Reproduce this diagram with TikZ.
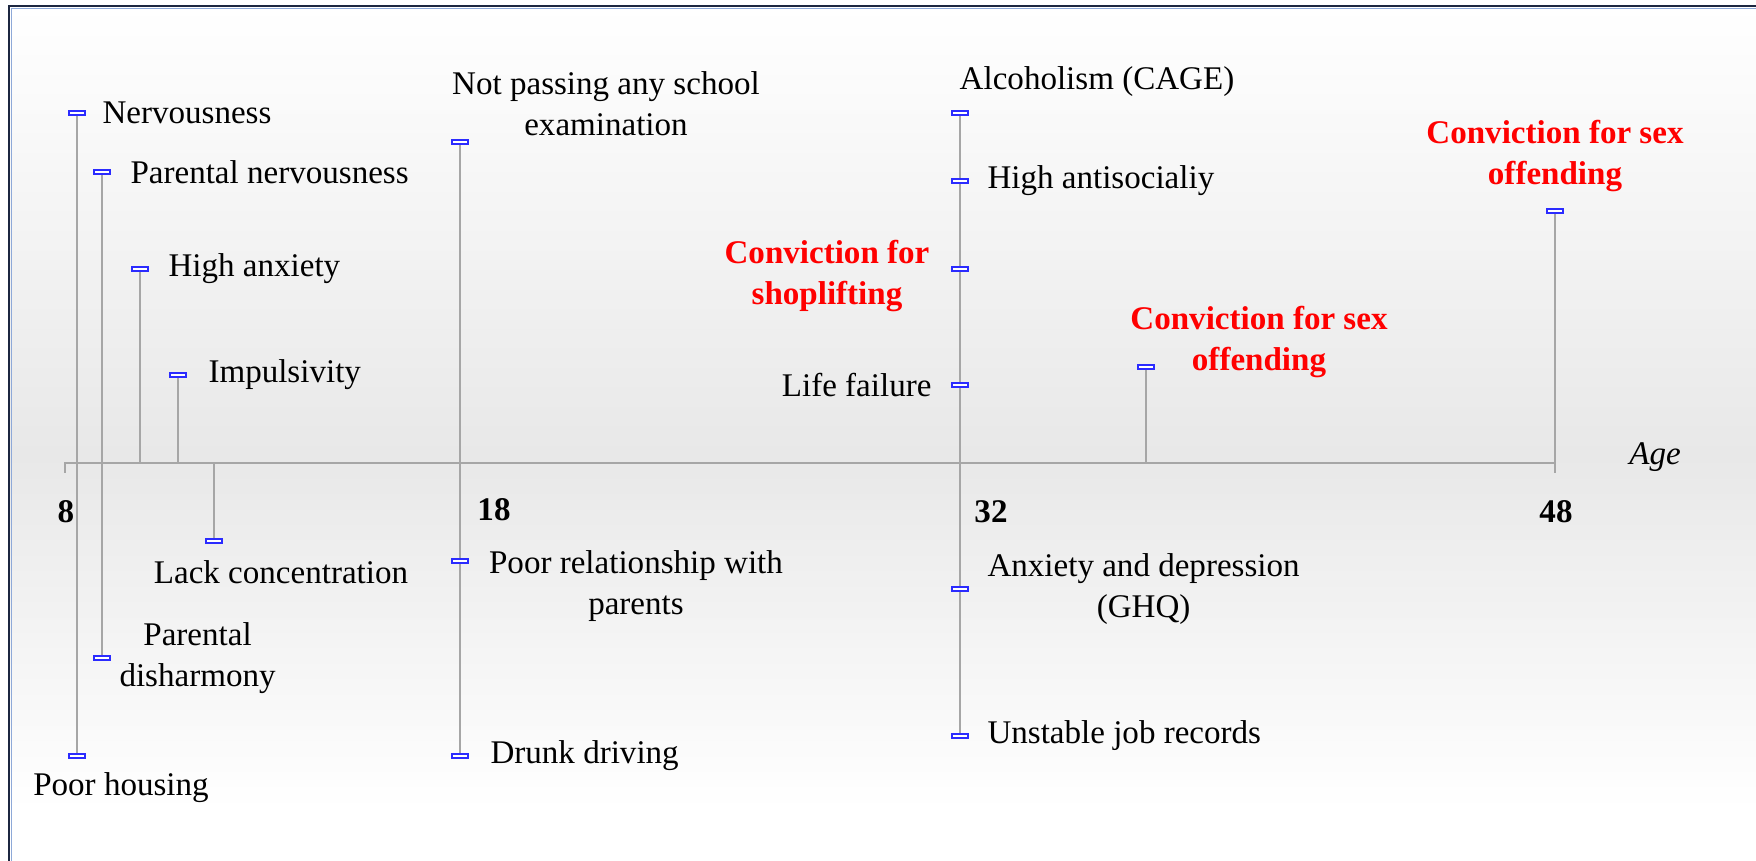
\documentclass[tikz,border=0pt]{standalone}
\usepackage{fontspec}
\setmainfont{Liberation Serif}
\usetikzlibrary{positioning}
\definecolor{stemgray}{HTML}{A6A6A6}
\definecolor{evtblue}{HTML}{2B2BFF}
\definecolor{framenavy}{HTML}{1C2640}
\definecolor{frameblue}{HTML}{8EA9D8}
\definecolor{bgmid}{HTML}{E8E8E8}

\begin{document}
\begin{tikzpicture}[x=0.01cm,y=-0.01cm,
   font=\fontsize{9.4pt}{11.7pt}\selectfont,
   evt/.style={draw=evtblue,fill=white,line width=0.6pt,inner sep=0pt,
     minimum width=0.155cm,minimum height=0.045cm},
   stem/.style={draw=stemgray,line width=0.8pt},
   lbl/.style={inner sep=0pt,align=center},
   hot/.style={lbl,text=red,font=\fontsize{9.4pt}{11.7pt}\selectfont\bfseries},
   yr/.style={inner sep=0pt,font=\fontsize{9.4pt}{11.7pt}\selectfont\bfseries}]
   % background and frame
   \useasboundingbox (0,0) rectangle (1756,861);
   \shade[top color=white,bottom color=bgmid] (9,6) rectangle (1756,455);
   \shade[top color=bgmid,bottom color=white] (9,455) rectangle (1756,810);
   \draw[framenavy,line width=0.6pt] (9,861) -- (9,6) -- (1756,6);
   \draw[frameblue,line width=0.4pt] (11.5,861) -- (11.5,8.5) -- (1756,8.5);

   % age axis
   \coordinate (ax8)    at (65,463);
   \coordinate (ax48)   at (1555,463);
   \coordinate (a-anx)  at (140,463);
   \coordinate (a-imp)  at (178,463);
   \coordinate (a-lack) at (214,463);
   \coordinate (a-sexa) at (1146,463);
   \draw[stem,line width=0.7pt] (ax8) ++(0,10) -- (ax8) -- (ax48) -- ++(0,10);

   % events
   \node[evt] (nerv)  at (77,113)  {};
   \node[evt] (pnerv) at (102,172) {};
   \node[evt] (anx)   at (140,269) {};
   \node[evt] (imp)   at (178,375) {};
   \node[evt] (lack)  at (214,541) {};
   \node[evt] (pdis)  at (102,658) {};
   \node[evt] (poorh) at (77,756)  {};
   \node[evt] (exam)  at (460,142) {};
   \node[evt] (rel)   at (460,561) {};
   \node[evt] (drunk) at (460,756) {};
   \node[evt] (alc)   at (960,113) {};
   \node[evt] (antis) at (960,181) {};
   \node[evt] (shop)  at (960,269) {};
   \node[evt] (life)  at (960,385) {};
   \node[evt] (ghq)   at (960,589) {};
   \node[evt] (job)   at (960,736) {};
   \node[evt] (sexa)  at (1146,367) {};
   \node[evt] (sexb)  at (1555,211) {};

   \path[stem]
    (nerv) -- (poorh)
    (pnerv) -- (pdis)
    (anx) -- (a-anx)
    (imp) -- (a-imp)
    (a-lack) -- (lack)
    (exam) -- (rel) -- (drunk)
    (alc) -- (antis) -- (shop) -- (life) -- (ghq) -- (job)
    (sexa) -- (a-sexa)
    (sexb) -- (ax48);

   % labels
   \node[lbl,right=0.16cm of nerv]  (t-nerv)  {Nervousness};
   \node[lbl,right=0.19cm of pnerv] (t-pnerv) {Parental nervousness};
   \node[lbl,right=0.19cm of anx]   (t-anx)   {High anxiety};
   \node[lbl,right=0.21cm of imp]   (t-imp)   {Impulsivity};
   \node[lbl] (t-lack) at (281,572) {Lack concentration};
   \node[lbl,right=0.08cm of pdis]  (t-pdis)  {Parental\\disharmony};
   \node[lbl] (t-poorh) at (121,788) {Poor housing};
   \node[lbl] (t-exam) at (606,104) {Not passing any school\\examination};
   \node[lbl] (t-rel)  at (636,586) {Poor relationship with\\parents};
   \node[lbl,right=0.21cm of drunk] (t-drunk) {Drunk driving};
   \node[lbl] (t-alc)  at (1097,82) {Alcoholism (CAGE)};
   \node[lbl,right=0.18cm of antis] (t-antis) {High antisocialiy};
   \node[hot] (t-shop) at (827,276) {Conviction for\\shoplifting};
   \node[lbl,left=0.19cm of life]   (t-life)  {Life failure};
   \node[lbl,right=0.18cm of ghq]   (t-ghq)   {Anxiety and depression\\(GHQ)};
   \node[lbl,right=0.18cm of job]   (t-job)   {Unstable job records};
   \node[hot] (t-sexa) at (1259,342) {Conviction for sex\\offending};
   \node[hot,above=0.15cm of sexb] (t-sexb) {Conviction for sex\\offending};

   % ages
   \node[yr] (n8)  at (66,512)   {8};
   \node[yr] (n18) at (494,510)  {18};
   \node[yr] (n32) at (991,512)  {32};
   \node[yr] (n48) at (1556,512) {48};
   \node[lbl,font=\fontsize{9.4pt}{11.7pt}\selectfont\itshape] (age) at (1655,457) {Age};
\end{tikzpicture}
\end{document}
